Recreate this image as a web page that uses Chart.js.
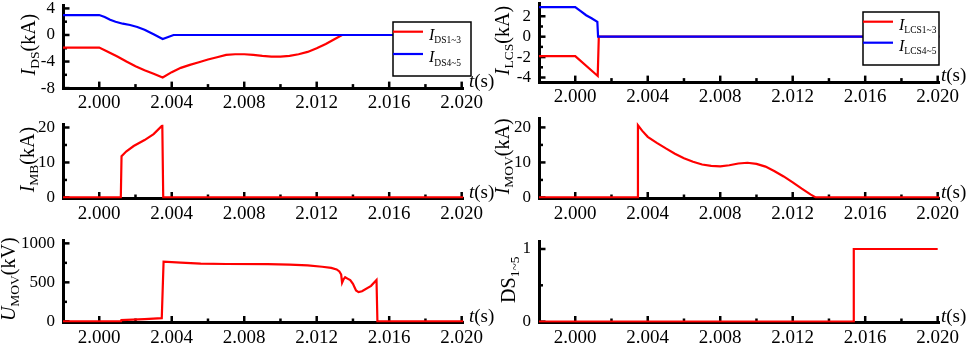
<!DOCTYPE html>
<html>
<head>
<meta charset="utf-8">
<script src="https://cdn.jsdelivr.net/npm/chart.js@4.4.1/dist/chart.umd.min.js"></script>
<style>
html, body { margin: 0; padding: 0; background: #fff; width: 969px; height: 345px; overflow: hidden; }
canvas { position: absolute; }
</style>
</head>
<body>
<script>
// ---- eixo do tempo (s) ----
const xMajor = [2.000, 2.004, 2.008, 2.012, 2.016, 2.020]
const xMinor = [2.002, 2.006, 2.010, 2.014, 2.018]

// ---- I_DS ----
const tDs13 = [1.998, 2.000, 2.0005, 2.001, 2.0015, 2.002, 2.0025, 2.003, 2.0035, 2.004, 2.0045, 2.005, 2.0055, 2.006, 2.0065, 2.007, 2.0075, 2.008, 2.0085, 2.009, 2.0095, 2.010, 2.0105, 2.011, 2.0115, 2.012, 2.0125, 2.013, 2.0134, 2.0201]
const iDs13 = [-1.9, -1.9, -2.55, -3.25, -4.0, -4.7, -5.3, -5.85, -6.4, -5.6, -4.95, -4.5, -4.1, -3.7, -3.35, -3.0, -2.9, -2.9, -3.0, -3.15, -3.25, -3.25, -3.15, -2.9, -2.55, -2.0, -1.35, -0.6, 0, 0]
const tDs45 = [1.998, 2.000, 2.0003, 2.0006, 2.0009, 2.0013, 2.0017, 2.0021, 2.0025, 2.003, 2.0035, 2.0041, 2.0201]
const iDs45 = [3.0, 3.0, 2.7, 2.3, 2.0, 1.7, 1.5, 1.2, 0.8, 0.1, -0.6, 0, 0]

// ---- I_LCS ----
const tLcs13 = [1.998, 2.000, 2.00124, 2.0013, 2.0201]
const iLcs13 = [-1.9, -1.9, -3.85, 0, 0]
const tLcs45 = [1.998, 2.000, 2.0003, 2.0006, 2.0009, 2.00122, 2.00126, 2.0201]
const iLcs45 = [2.9, 2.9, 2.5, 2.1, 1.8, 1.45, 0, 0]

// ---- I_MB ----
const tMb = [1.998, 2.00119, 2.00123, 2.0015, 2.0019, 2.0025, 2.003, 2.00348, 2.00353, 2.0201]
const iMb = [0, 0, 11.8, 13.2, 14.7, 16.4, 18.1, 20.6, 0, 0]

// ---- I_MOV ----
const tMov = [1.998, 2.00343, 2.00346, 2.0037, 2.004, 2.0045, 2.005, 2.0055, 2.006, 2.0065, 2.007, 2.0075, 2.008, 2.0085, 2.009, 2.0095, 2.010, 2.0105, 2.011, 2.0115, 2.012, 2.0125, 2.013, 2.01327, 2.0201]
const iMov = [0, 0, 20.6, 19.0, 17.3, 15.6, 14.0, 12.5, 11.2, 10.2, 9.4, 9.0, 8.9, 9.2, 9.7, 9.9, 9.6, 8.8, 7.5, 6.0, 4.3, 2.5, 0.8, 0, 0]

// ---- U_MOV ----
const tUmov = [1.998, 2.0012, 2.00122, 2.0025, 2.00345, 2.00355, 2.0045, 2.0056, 2.007, 2.0093, 2.0105, 2.0115, 2.0123, 2.0128, 2.0131, 2.01325, 2.01335, 2.0134, 2.01348, 2.01357, 2.0137, 2.01385, 2.014, 2.0141, 2.01417, 2.01431, 2.0145, 2.015, 2.0153, 2.01535, 2.0201]
const uMov = [0, 0, 15, 28, 40, 765, 752, 740, 735, 734, 728, 717, 700, 685, 665, 640, 600, 495, 540, 565, 548, 528, 480, 430, 395, 375, 385, 455, 530, 0, 0]

// ---- DS ----
const tDs = [1.998, 2.01535, 2.01537, 2.020]
const sDs = [0, 0, 1, 1]

const FONT = '"Liberation Serif", "Times New Roman", serif'
const VERMELHO = '#ff0000'
const AZUL = '#0000ff'

function desenharTexto(ctx, segs, x, y, size, subSize, rot, centro) {
    ctx.save()
    ctx.translate(x, y)
    if (rot) ctx.rotate(rot)
    const fonte = s => (s.it ? 'italic ' : '') + (s.sub ? subSize : size) + 'px ' + FONT
    let w = 0
    segs.forEach(s => { ctx.font = fonte(s); w += ctx.measureText(s.t).width })
    let cx = centro ? -w / 2 : 0
    ctx.fillStyle = '#000'
    ctx.textAlign = 'left'
    ctx.textBaseline = 'alphabetic'
    segs.forEach(s => {
        ctx.font = fonte(s)
        ctx.fillText(s.t, cx, s.sub ? size * 0.22 : 0)
        cx += ctx.measureText(s.t).width
    })
    ctx.restore()
}

const paineis = [
    {
        area: [63, 5.1, 463.5, 88.1], yMin: -8, yMax: 4.5, yMajor: [-8, -4, 0, 4], yMinor: [-6, -2, 2],
        series: [{ t: tDs13, v: iDs13, cor: VERMELHO, order: 2 }, { t: tDs45, v: iDs45, cor: AZUL, order: 1 }],
        titulo: [{ t: 'I', it: true }, { t: 'DS', sub: true }, { t: '(kA)' }], tituloX: 35, tX: 469,
        legenda: { box: [393, 22, 78, 54], x1: 393, x2: 423, tx: 429,
            linhas: [{ cor: VERMELHO, y: 31.7, segs: [{ t: 'I', it: true }, { t: 'DS1~3', sub: true }] },
                     { cor: AZUL, y: 54, segs: [{ t: 'I', it: true }, { t: 'DS4~5', sub: true }] }] }
    },
    {
        area: [539, 3.0, 939.5, 82.1], yMin: -4.45, yMax: 3.3, yMajor: [-4, -2, 0, 2], yMinor: [-3, -1, 1],
        series: [{ t: tLcs13, v: iLcs13, cor: VERMELHO, order: 2 }, { t: tLcs45, v: iLcs45, cor: AZUL, order: 1 }],
        titulo: [{ t: 'I', it: true }, { t: 'LCS', sub: true }, { t: '(kA)' }], tituloX: 509, tX: 941,
        legenda: { box: [863, 12, 76, 53], x1: 863, x2: 893, tx: 899,
            linhas: [{ cor: VERMELHO, y: 21.7, segs: [{ t: 'I', it: true }, { t: 'LCS1~3', sub: true }] },
                     { cor: AZUL, y: 42.7, segs: [{ t: 'I', it: true }, { t: 'LCS4~5', sub: true }] }] }
    },
    {
        area: [63, 124.7, 463.5, 198.5], yMin: -0.3, yMax: 20.8, yMajor: [0, 10, 20], yMinor: [5, 15],
        series: [{ t: tMb, v: iMb, cor: VERMELHO, order: 1 }],
        titulo: [{ t: 'I', it: true }, { t: 'MB', sub: true }, { t: '(kA)' }], tituloX: 34, tX: 469
    },
    {
        area: [539, 118.3, 939.5, 198.5], yMin: -0.3, yMax: 22.6, yMajor: [0, 10, 20], yMinor: [5, 15],
        series: [{ t: tMov, v: iMov, cor: VERMELHO, order: 1 }],
        titulo: [{ t: 'I', it: true }, { t: 'MOV', sub: true }, { t: '(kA)' }], tituloX: 509, tX: 941
    },
    {
        area: [63, 240, 463.5, 322.5], yMin: -15, yMax: 1043, yMajor: [0, 500, 1000], yMinor: [250, 750],
        series: [{ t: tUmov, v: uMov, cor: VERMELHO, order: 1 }],
        titulo: [{ t: 'U', it: true }, { t: 'MOV', sub: true }, { t: '(kV)' }], tituloX: 15, tX: 469
    },
    {
        area: [539, 241, 939.5, 322.5], yMin: -0.012, yMax: 1.11, yMajor: [0, 1], yMinor: [0.5],
        series: [{ t: tDs, v: sDs, cor: VERMELHO, order: 1 }],
        titulo: [{ t: 'DS' }, { t: '1~5', sub: true }], tituloX: 515, tX: 941
    }
]

function decoracao(p) {
    return {
        id: 'decoracao',
        beforeDatasetsDraw(chart) {
            const ctx = chart.ctx, a = chart.chartArea, sx = chart.scales.x, sy = chart.scales.y
            ctx.save()
            ctx.strokeStyle = '#000'
            ctx.lineWidth = 2.5
            const traco = (x1, y1, x2, y2) => { ctx.beginPath(); ctx.moveTo(x1, y1); ctx.lineTo(x2, y2); ctx.stroke() }
            xMajor.forEach(v => { const x = sx.getPixelForValue(v); traco(x, a.bottom, x, a.bottom - 6.5) })
            xMinor.forEach(v => { const x = sx.getPixelForValue(v); traco(x, a.bottom, x, a.bottom - 4) })
            p.yMajor.forEach(v => { const y = sy.getPixelForValue(v); traco(a.left, y, a.left + 6.5, y) })
            p.yMinor.forEach(v => { const y = sy.getPixelForValue(v); traco(a.left, y, a.left + 4, y) })
            ctx.restore()
        },
        afterDraw(chart) {
            const ctx = chart.ctx, a = chart.chartArea
            desenharTexto(ctx, p.titulo, p.tituloX - p.cl, (a.top + a.bottom) / 2 - 2, 20, 13.5, -Math.PI / 2, true)
            desenharTexto(ctx, [{ t: 't', it: true }, { t: '(s)' }], p.tX - p.cl, a.bottom - 1, 19, 13, 0, false)
            const g = p.legenda
            if (g) {
                const [bx, by, bw, bh] = g.box
                ctx.save()
                ctx.fillStyle = '#fff'
                ctx.fillRect(bx - p.cl, by - p.ct, bw, bh)
                ctx.strokeStyle = '#000'
                ctx.lineWidth = 1.5
                ctx.strokeRect(bx - p.cl, by - p.ct, bw, bh)
                g.linhas.forEach(l => {
                    ctx.strokeStyle = l.cor
                    ctx.lineWidth = 2.2
                    ctx.beginPath()
                    ctx.moveTo(g.x1 - p.cl, l.y - p.ct)
                    ctx.lineTo(g.x2 - p.cl, l.y - p.ct)
                    ctx.stroke()
                    desenharTexto(ctx, l.segs, g.tx - p.cl, l.y + 8 - p.ct, 16, 9.5, 0, false)
                })
                ctx.restore()
            }
        }
    }
}

const LARG_Y = 60, ALT_X = 28

paineis.forEach(p => {
    const [L, T, R, B] = p.area
    p.cl = Math.floor(L - LARG_Y - 2)
    p.ct = Math.floor(T - 25)
    const cw = Math.ceil(R - p.cl + 34)
    const ch = Math.ceil(B - p.ct + ALT_X + 6)
    const canvas = document.createElement('canvas')
    canvas.width = cw
    canvas.height = ch
    canvas.style.left = p.cl + 'px'
    canvas.style.top = p.ct + 'px'
    canvas.style.width = cw + 'px'
    canvas.style.height = ch + 'px'
    document.body.appendChild(canvas)

    new Chart(canvas, {
        type: 'line',
        data: {
            datasets: p.series.map(s => ({
                data: s.t.map((t, i) => ({ x: t, y: s.v[i] })),
                borderColor: s.cor,
                borderWidth: 2.2,
                pointRadius: 0,
                tension: 0,
                fill: false,
                order: s.order
            }))
        },
        options: {
            responsive: false,
            animation: false,
            events: [],
            devicePixelRatio: 1,
            layout: {
                padding: {
                    left: L - p.cl - LARG_Y,
                    top: T - p.ct,
                    right: cw - (R - p.cl),
                    bottom: ch - (B - p.ct) - ALT_X
                }
            },
            plugins: { legend: { display: false }, tooltip: { enabled: false } },
            scales: {
                x: {
                    type: 'linear',
                    min: 1.998,
                    max: 2.0201,
                    afterBuildTicks: s => { s.ticks = xMajor.map(v => ({ value: v })) },
                    afterFit: s => { s.height = ALT_X },
                    ticks: { callback: v => v.toFixed(3), font: { family: FONT, size: 19 }, color: '#000', padding: 4, maxRotation: 0, autoSkip: false },
                    grid: { drawOnChartArea: false, drawTicks: false },
                    border: { width: 3, color: '#000' }
                },
                y: {
                    type: 'linear',
                    min: p.yMin,
                    max: p.yMax,
                    afterBuildTicks: s => { s.ticks = p.yMajor.map(v => ({ value: v })) },
                    afterFit: s => { s.width = LARG_Y },
                    ticks: { callback: v => String(v), font: { family: FONT, size: 17 }, color: '#000', padding: 8, autoSkip: false },
                    grid: { drawOnChartArea: false, drawTicks: false },
                    border: { width: 3, color: '#000' }
                }
            }
        },
        plugins: [decoracao(p)]
    })
})
</script>
</body>
</html>
